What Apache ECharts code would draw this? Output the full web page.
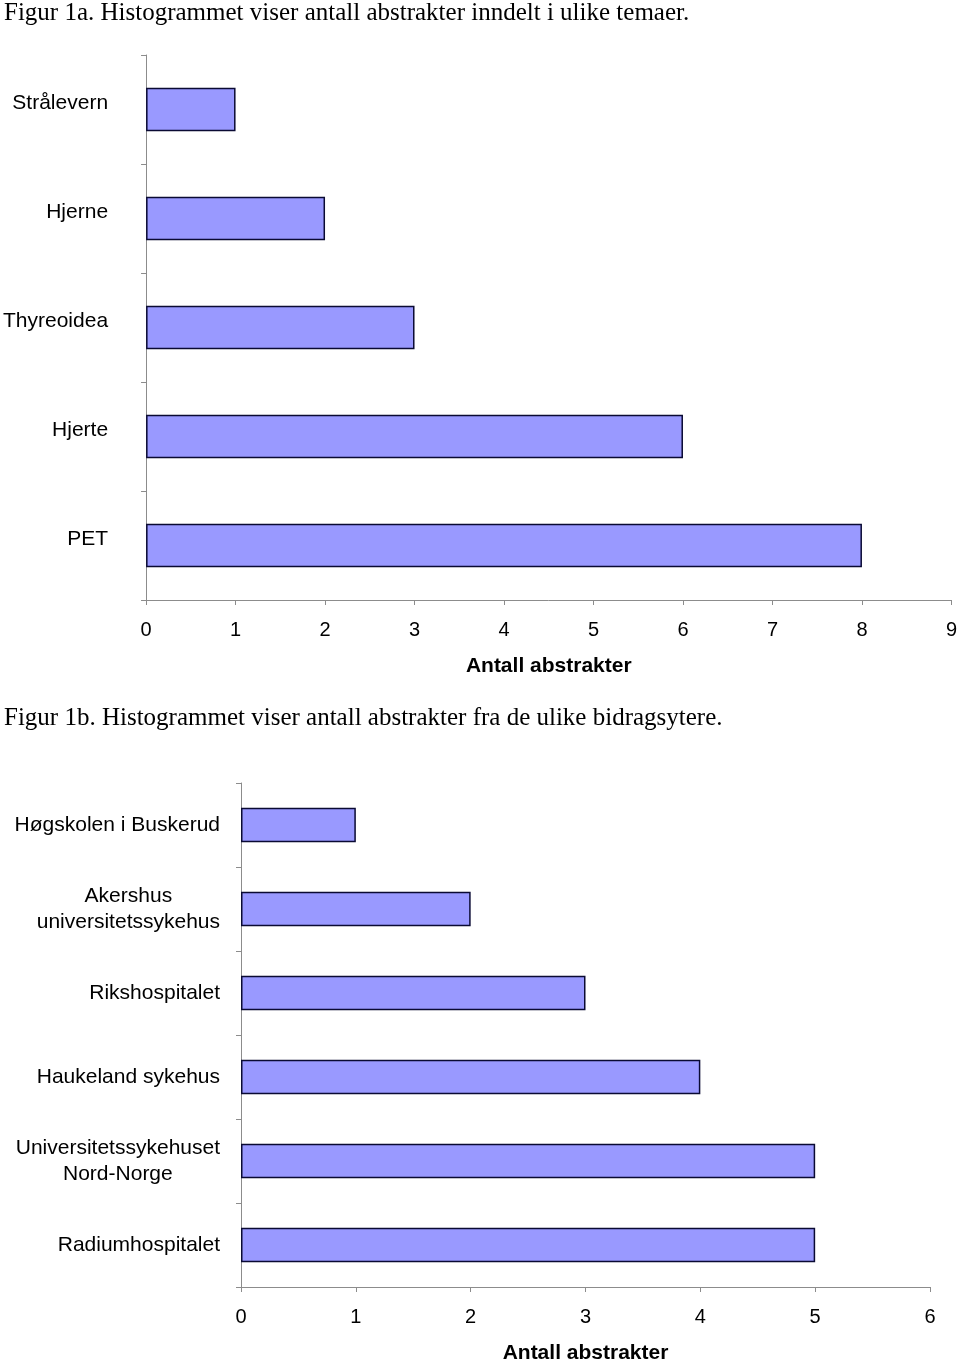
<!DOCTYPE html>
<html><head><meta charset="utf-8">
<script src="https://cdn.jsdelivr.net/npm/echarts@6/dist/echarts.min.js"></script>
<style>html,body{margin:0;padding:0;background:#fff}#c{width:960px;height:1365px}</style>
</head><body><div id="c"></div>
<script>
const titleA = 'Figur 1a. Histogrammet viser antall abstrakter inndelt i ulike temaer.';
const titleB = 'Figur 1b. Histogrammet viser antall abstrakter fra de ulike bidragsytere.';
const catsA = ['Strålevern', 'Hjerne', 'Thyreoidea', 'Hjerte', 'PET'];
const valsA = [1, 2, 3, 6, 8];
const catsB = ['Høgskolen i Buskerud', 'Akershus\nuniversitetssykehus', 'Rikshospitalet', 'Haukeland sykehus', 'Universitetssykehuset\nNord-Norge', 'Radiumhospitalet'];
const valsB = [1, 2, 3, 4, 5, 5];
const xName = 'Antall abstrakter';
const xMaxA = 9, xMaxB = 6;

const SANS = "'Liberation Sans', Arial, sans-serif";
const SERIF = "'Liberation Serif', 'Times New Roman', serif";
const axisGray = '#8c8c8c';

function xAxis(gridIndex, max) {
  return {
    type: 'value', gridIndex, min: 0, max, interval: 1,
    name: xName, nameLocation: 'middle', nameGap: 56,
    nameTextStyle: { fontFamily: SANS, fontSize: 21, fontWeight: 'bold', color: '#000' },
    axisLine: { show: true, lineStyle: { color: axisGray, width: 1 } },
    axisTick: { show: true, length: 5, lineStyle: { color: axisGray } },
    axisLabel: { margin: 20, fontFamily: SANS, fontSize: 20, color: '#000' },
    splitLine: { show: false }
  };
}
function yAxis(gridIndex, cats, margin, pad) {
  return {
    type: 'category', gridIndex, data: cats, inverse: true,
    axisLine: { show: true, lineStyle: { color: axisGray, width: 1 } },
    axisTick: { show: true, length: 5, alignWithLabel: false, lineStyle: { color: axisGray } },
    axisLabel: {
      margin, fontFamily: SANS, fontSize: 21, color: '#000', align: 'right', lineHeight: 26,
      padding: pad,
      formatter: v => v.split('\n').map(s => '{c|' + s + '}').join('\n'),
      rich: { c: { align: 'center', fontFamily: SANS, fontSize: 21, color: '#000', lineHeight: 26 } }
    },
    splitLine: { show: false }
  };
}
const barStyle = { color: '#9999ff', borderColor: '#0a0a33', borderWidth: 1.5 };
const titleStyle = { fontFamily: SERIF, fontSize: 25, fontWeight: 'normal', color: '#000' };

const chart = echarts.init(document.getElementById('c'), null, { renderer: 'canvas' });
chart.setOption({
  backgroundColor: '#fff',
  animation: false,
  title: [
    { text: titleA, left: 4, top: 1, padding: 0, textStyle: titleStyle },
    { text: titleB, left: 4, top: 706, padding: 0, textStyle: titleStyle }
  ],
  grid: [
    { left: 146, right: 8, top: 55, bottom: 765, containLabel: false },
    { left: 241, right: 30, top: 783, bottom: 73, containLabel: false }
  ],
  xAxis: [xAxis(0, xMaxA), xAxis(1, xMaxB)],
  yAxis: [yAxis(0, catsA, 38, [0, 0, 12, 0]), yAxis(1, catsB, 21, 0)],
  series: [
    { type: 'bar', xAxisIndex: 0, yAxisIndex: 0, data: valsA, barWidth: '40%', itemStyle: barStyle },
    { type: 'bar', xAxisIndex: 1, yAxisIndex: 1, data: valsB, barWidth: '41%', itemStyle: barStyle }
  ]
});
</script></body></html>
